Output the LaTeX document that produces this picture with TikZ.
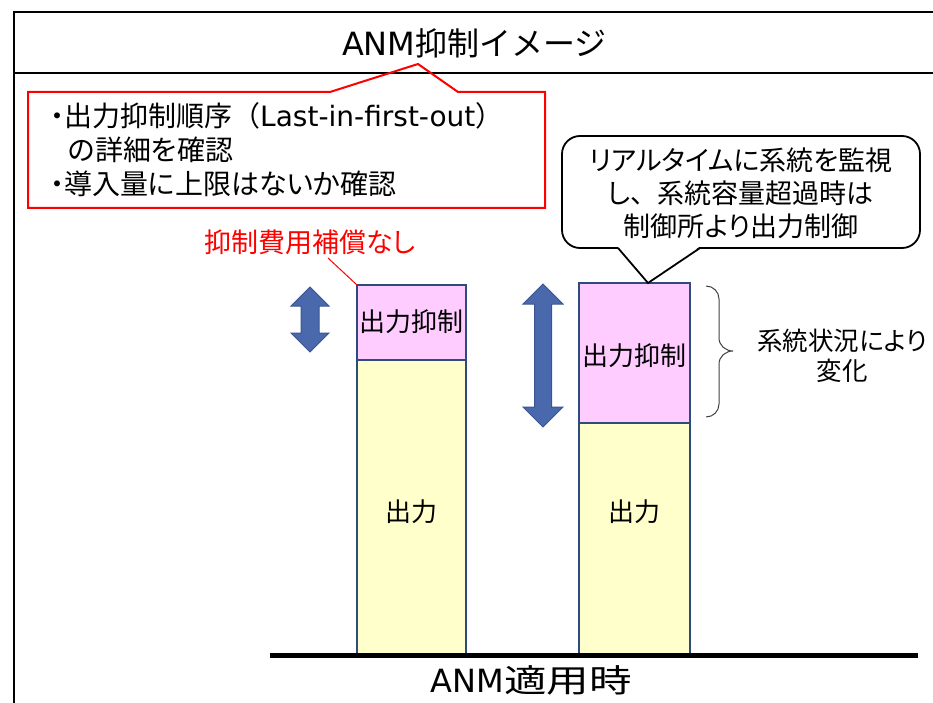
\documentclass[tikz,border=0pt]{standalone}
\usepackage{fontspec}
\usepackage{graphicx}
\setmainfont{Noto Sans CJK JP}[RawFeature=+palt]
\newfontfamily\jpfull{Noto Sans CJK JP}
\newfontfamily\latinf{DejaVu Sans}
\definecolor{barline}{HTML}{2F4A7C}
\definecolor{pinkfill}{HTML}{FFCCFF}
\definecolor{yellowfill}{HTML}{FFFFCC}
\definecolor{arrowfill}{HTML}{4A69AC}
\definecolor{arrowline}{HTML}{3A5590}
\definecolor{redline}{HTML}{FF0000}
\begin{document}
\begin{tikzpicture}[x=1pt,y=-1pt,
  frameline/.style={line width=2pt,black},
  barbox/.style={draw=barline,line width=2pt},
  dblarrow/.style={fill=arrowfill,draw=arrowline,line width=1pt,line join=miter},
  lbl/.style={inner sep=0pt,font=\fontsize{27}{30}\selectfont},
  boxtext/.style={inner sep=0pt,font=\fontsize{28}{32}\selectfont},
  bartext/.style={inner sep=0pt,font=\jpfull\fontsize{26}{30}\selectfont}]
\useasboundingbox (0,0) rectangle (933,703);
% frame
\draw[frameline] (14,12) -- (933,12);
\draw[frameline] (14,73) -- (933,73);
\draw[frameline] (14,11) -- (14,703);
\node[inner sep=0pt,font=\jpfull\fontsize{32}{36}\selectfont] (title) at (474.5,43) {{\latinf ANM}抑制イメージ};
% red callout
\draw[redline,line width=2pt,line join=miter] (28,92) -- (330,92) -- (418,64) -- (458,92) -- (545,92) -- (545,208) -- (28,208) -- cycle;
\node[boxtext,anchor=west] (r1) at (50,116) {・出力抑制順序{\jpfull（}{\latinf Last-in-first-out}{\jpfull ）}};
\node[boxtext,anchor=west] (r2) at (68,150) {の詳細を確認};
\node[boxtext,anchor=west] (r3) at (50,184) {・導入量に上限はないか確認};
% bars
\draw[barbox,fill=yellowfill] (357,360) rectangle (466,655);
\draw[barbox,fill=pinkfill] (357,285) rectangle (466,360);
\draw[barbox,fill=yellowfill] (579,423) rectangle (690,655);
\draw[barbox,fill=pinkfill] (579,283) rectangle (690,423);
\coordinate (lbartop) at (357,285);
\coordinate (rbartop) at (648,283);
\node[bartext] (lsup) at (411.5,322) {出力抑制};
\node[bartext] (rsup) at (634.5,356) {出力抑制};
\node[bartext] (lout) at (411.5,512) {出力};
\node[bartext] (rout) at (634.5,512) {出力};
% ground
\draw[line width=5pt] (270,655) -- (918,655);
\node[inner sep=0pt,font=\jpfull\fontsize{32}{36}\selectfont] (foot) at (531.5,680) {{\latinf ANM}\scalebox{1.33}[1]{適用時}};
% red label
\node[lbl,text=redline] (nocomp) at (310,242) {抑制費用補償なし};
\draw[redline,line width=1pt] (328,258) -- (lbartop);
% left double arrow
\draw[dblarrow] (310,287) -- (329,306) -- (319,306) -- (319,333) -- (329,333) -- (310,352) -- (291,333) -- (301,333) -- (301,306) -- (291,306) -- cycle;
% right double arrow
\draw[dblarrow] (543,284) -- (563,304) -- (551.5,304) -- (551.5,407) -- (563,407) -- (543,427) -- (523,407) -- (534.5,407) -- (534.5,304) -- (523,304) -- cycle;
% brace
\draw[black!75,line width=1pt] (706,286) to[out=0,in=90] (719,299) -- (719,338) to[out=-90,in=180] (733,351) to[out=180,in=90] (719,364) -- (719,404) to[out=-90,in=0] (706,417);
\node[inner sep=0pt,font=\fontsize{25.5}{30}\selectfont] (chg1) at (842,341) {系統状況により};
\node[inner sep=0pt,font=\fontsize{25.5}{30}\selectfont] (chg2) at (842,371) {変化};
% speech bubble
\node[draw=black,line width=1.8pt,rounded corners=18pt,minimum width=358pt,minimum height=112pt,inner sep=0pt,fill=white] (bubble) at (741,192) {};
\fill[white] (616,245) -- (650,281) -- (702,245) -- cycle;
\draw[line width=1.8pt,line join=miter] (618,248) -- (rbartop) -- (700,248);
\node[lbl] (b1) at (741,160) {リアルタイムに系統を監視};
\node[lbl] (b2) at (741,193) {し{\jpfull 、}系統容量超過時は};
\node[lbl] (b3) at (741,226) {制御所より出力制御};
\end{tikzpicture}
\end{document}
